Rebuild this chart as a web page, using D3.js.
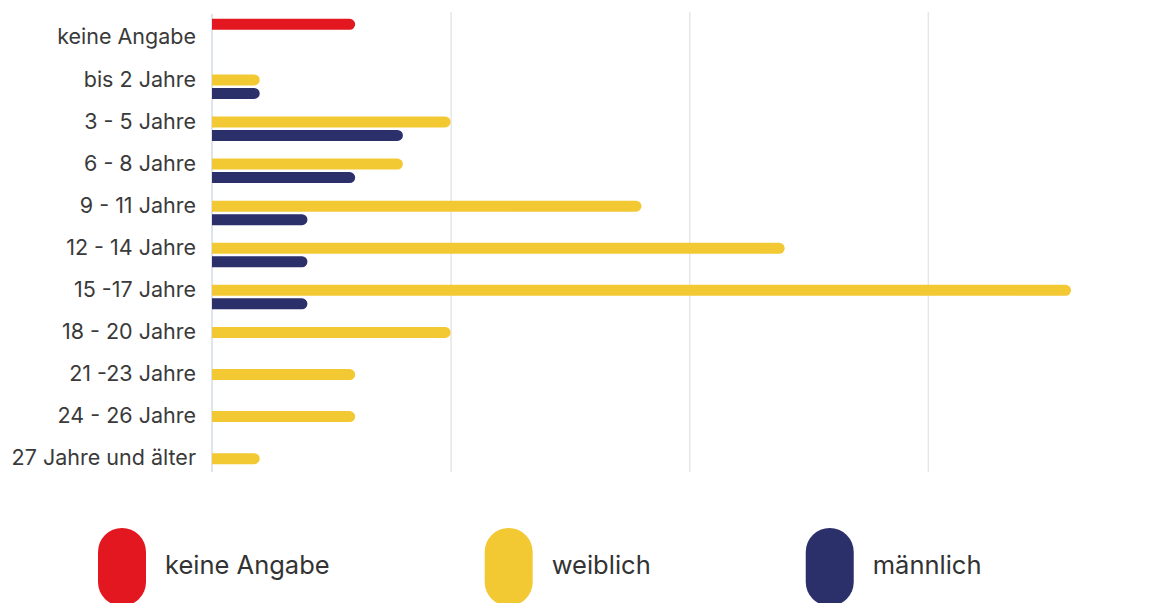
<!DOCTYPE html>
<html>
<head>
<meta charset="utf-8">
<script src="https://cdn.jsdelivr.net/npm/d3@7"></script>
<style>
  body { margin: 0; background: #fff; font-family: Inter, "Noto Sans", sans-serif; }
  .cat-axis text { font-size: 21.5px; fill: #3a3a3a; }
  .legend text { font-size: 25.5px; fill: #333; }
</style>
</head>
<body>
<script>
const categories = ['keine Angabe', 'bis 2 Jahre', '3 - 5 Jahre', '6 - 8 Jahre', '9 - 11 Jahre',
  '12 - 14 Jahre', '15 -17 Jahre', '18 - 20 Jahre', '21 -23 Jahre', '24 - 26 Jahre', '27 Jahre und älter'];
const series = ['keine Angabe', 'weiblich', 'männlich'];
const colors = ['#e3171f', '#f2c833', '#2b2f6a'];

const keineAngabe = [3, 0, 0, 0, 0, 0, 0, 0, 0, 0, 0];
const weiblich = [0, 1, 5, 4, 9, 12, 18, 5, 3, 3, 1];
const maennlich = [0, 1, 4, 3, 2, 2, 2, 0, 0, 0, 0];
const gridTicks = [5, 10, 15];

const values = [keineAngabe, weiblich, maennlich];

const width = 1157;
const height = 603;
const left = 212;

const svg = d3.select('body').append('svg')
  .attr('width', width)
  .attr('height', height);

const x = d3.scaleLinear()
  .domain([0, 18])
  .range([left, left + 859]);

const y = d3.scaleBand()
  .domain(categories)
  .range([17, 480]);

const sub = d3.scaleBand()
  .domain(series)
  .range([-20.5, 20]);

// grid lines
svg.append('g')
  .attr('transform', 'translate(0, 472)')
  .call(d3.axisBottom(x).tickValues(gridTicks).tickSize(-460).tickFormat(''))
  .call(g => g.select('.domain').remove())
  .call(g => g.selectAll('.tick line').attr('stroke', '#e6e6e6').attr('stroke-width', 1.5));

// axis line
svg.append('line')
  .attr('x1', x(0)).attr('x2', x(0))
  .attr('y1', 14).attr('y2', 472)
  .attr('stroke', '#c9d0df')
  .attr('stroke-width', 1.2);

// category labels
svg.append('g')
  .attr('class', 'cat-axis')
  .attr('transform', `translate(${x(0) - 16}, 0)`)
  .call(d3.axisLeft(y).tickSize(0).tickPadding(0))
  .call(g => g.select('.domain').remove())
  .call(g => g.selectAll('text').attr('font-family', 'Inter, "Noto Sans", sans-serif').attr('dy', '0.3em'));

const barH = 11;
const barPath = (x0, x1, yc) => {
  const r = barH / 2;
  const w = Math.max(x1 - x0, r);
  return `M${x0},${yc - r}H${x0 + w - r}A${r},${r} 0 0 1 ${x0 + w - r},${yc + r}H${x0}Z`;
};

const bars = [];
series.forEach((s, si) => {
  categories.forEach((c, ci) => {
    const v = values[si][ci];
    if (v > 0) bars.push({ series: s, si, category: c, value: v });
  });
});

svg.append('g')
  .selectAll('path')
  .data(bars)
  .enter().append('path')
  .attr('fill', d => colors[d.si])
  .attr('d', d => barPath(x(0), x(d.value),
    y(d.category) + y.bandwidth() / 2 + sub(d.series) + sub.bandwidth() / 2));

// legend
const legend = svg.append('g').attr('class', 'legend');
let lx = 98;
series.forEach((s, i) => {
  const item = legend.append('g').attr('transform', `translate(${lx}, 0)`);
  item.append('rect')
    .attr('x', 0).attr('y', 528)
    .attr('width', 48).attr('height', 78)
    .attr('rx', 24)
    .attr('fill', colors[i]);
  const t = item.append('text')
    .attr('x', 67).attr('y', 574)
    .text(s);
  lx += 67 + t.node().getComputedTextLength() + 155;
});
</script>
</body>
</html>
